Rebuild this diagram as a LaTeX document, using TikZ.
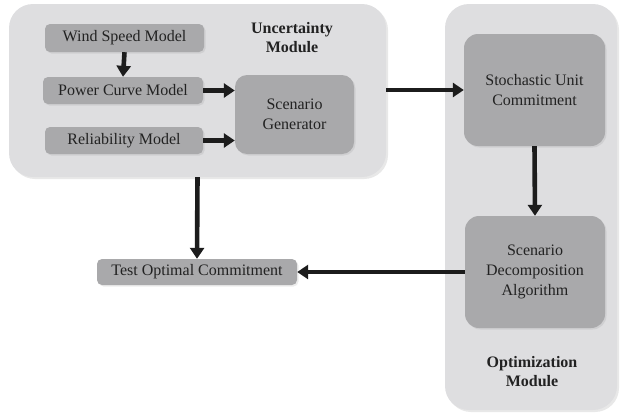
\documentclass[tikz,border=0pt]{standalone}
\usepackage{fontspec}
\setmainfont{Liberation Serif}
\usetikzlibrary{arrows.meta,shadows}
\definecolor{outerfill}{HTML}{DEDEE0}
\definecolor{innerfill}{HTML}{A9A9AB}
\definecolor{txt}{HTML}{222222}
\definecolor{arrowcol}{HTML}{1C1C1C}
\tikzset{
  module/.style={fill=outerfill, rounded corners=24pt, draw=none,
    drop shadow={opacity=0.18, shadow xshift=2pt, shadow yshift=-2pt}},
  smallbox/.style={fill=innerfill, rounded corners=5pt, draw=none, text=txt,
    font=\fontsize{16}{20}\selectfont,
    drop shadow={opacity=0.15, shadow xshift=1.5pt, shadow yshift=-1.5pt}},
  bigbox/.style={fill=innerfill, rounded corners=14pt, draw=none, text=txt,
    align=center, font=\fontsize{16}{20}\selectfont,
    drop shadow={opacity=0.15, shadow xshift=1.5pt, shadow yshift=-1.5pt}},
  label/.style={align=center, text=txt, font=\fontsize{16}{19}\selectfont\bfseries},
  arr/.style={draw=arrowcol, line width=4.6pt, -{Triangle[length=11pt,width=14pt]}},
}
\begin{document}
\begin{tikzpicture}[x=1pt,y=-1pt]
\useasboundingbox (0,0) rectangle (620,415);
\node[module, minimum width=377pt, minimum height=173pt] (U) at (197.5,90.5) {};
\node[module, minimum width=172pt, minimum height=406pt] (O) at (531,207) {};
\node[label] (UL) at (292,38) {Uncertainty\\Module};
\node[label] (OL) at (532,372) {Optimization\\Module};
\node[smallbox, minimum width=159pt, minimum height=28pt] (wind) at (124.5,38) {Wind Speed Model};
\node[smallbox, minimum width=160pt, minimum height=27pt] (power) at (123,90.5) {Power Curve Model};
\node[smallbox, minimum width=158pt, minimum height=27pt] (rel) at (124,140.5) {Reliability Model};
\node[bigbox, rounded corners=12pt, minimum width=119pt, minimum height=79pt] (SG) at (294.5,114.5) {Scenario\\Generator};
\node[bigbox, minimum width=141pt, minimum height=112pt] (SUC) at (534.5,90) {Stochastic Unit\\Commitment};
\node[bigbox, minimum width=140pt, minimum height=112pt] (SDA) at (535,272) {Scenario\\Decomposition\\Algorithm};
\node[smallbox, minimum width=200pt, minimum height=26pt] (test) at (197,272) {Test Optimal Commitment};
\draw[arr] (wind.south) -- (power.north);
\draw[arr] (power.east) -- ++(3,0) -- (power.east -| SG.west);
\draw[arr] (rel.east) -- ++(3,0) -- (rel.east -| SG.west);
\draw[arr] (U.east |- SUC.west) -- (SUC.west);
\draw[arr] (SUC.south) -- (SDA.north);
\draw[arr] (SDA.west) -- (test.east);
\draw[arr] (U.south) -- (test.north);
\end{tikzpicture}
\end{document}
